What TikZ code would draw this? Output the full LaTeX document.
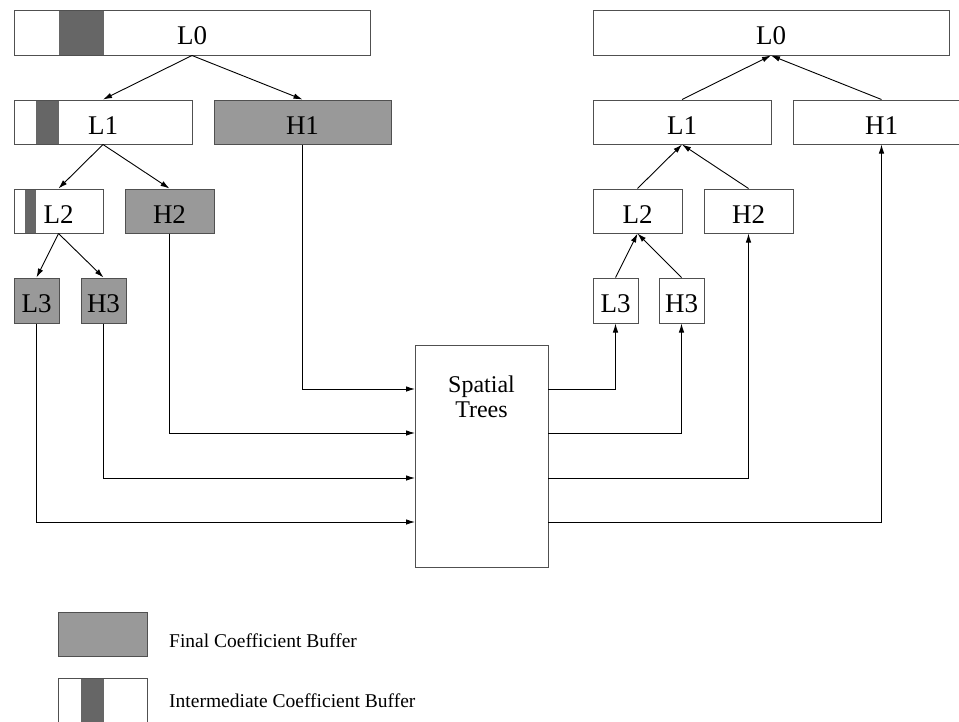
\documentclass[tikz,border=0pt]{standalone}
\usepackage{fontspec}
\setmainfont{Liberation Serif}
\usetikzlibrary{arrows.meta}
\definecolor{fincol}{HTML}{999999}
\definecolor{barcol}{HTML}{666666}
\definecolor{boxc}{HTML}{505050}
\tikzset{
  box/.style={draw=boxc, line width=1pt, inner sep=0pt, text height=28pt, text depth=4pt,
    font=\fontsize{27}{30}\selectfont},
  finbox/.style={box, fill=fincol},
  barfill/.style={fill=barcol},
  arr/.style={-{Latex[length=9pt,width=5.5pt]}, line width=0.9pt},
  conn/.style={-{Latex[length=9pt,width=5.5pt]}, line width=0.9pt},
  lbl/.style={inner sep=0pt, font=\fontsize{24}{26}\selectfont, anchor=base},
  legtxt/.style={inner sep=0pt, font=\fontsize{19.5}{22}\selectfont, anchor=base west}
}
\begin{document}
\begin{tikzpicture}[x=1pt,y=-1pt]
\useasboundingbox (0,0) rectangle (959,721);
% intermediate bars (drawn under the boxes)
\fill[barfill] (59,10) rectangle (104,55);
\fill[barfill] (36,100) rectangle (59,144);
\fill[barfill] (25,189) rectangle (36,233);
\fill[barfill] (81,678) rectangle (104,730);
% left tree
\node[box, minimum width=356pt, minimum height=45pt] (lL0) at (192,32.5) {L0};
\node[box, minimum width=178pt, minimum height=44pt] (lL1) at (103,122) {L1};
\node[finbox, minimum width=177pt, minimum height=44pt] (lH1) at (302.5,122) {H1};
\node[box, minimum width=89pt, minimum height=44pt] (lL2) at (58.5,211) {L2};
\node[finbox, minimum width=89pt, minimum height=44pt] (lH2) at (169.5,211) {H2};
\node[finbox, minimum width=45pt, minimum height=45pt] (lL3) at (36.5,300.5) {L3};
\node[finbox, minimum width=45pt, minimum height=45pt] (lH3) at (103.5,300.5) {H3};
% right tree
\node[box, minimum width=356pt, minimum height=45pt] (rL0) at (771,32.5) {L0};
\node[box, minimum width=178pt, minimum height=44pt] (rL1) at (682,122) {L1};
\node[box, minimum width=177pt, minimum height=44pt] (rH1) at (881.5,122) {H1};
\node[box, minimum width=89pt, minimum height=44pt] (rL2) at (637.5,211) {L2};
\node[box, minimum width=89pt, minimum height=44pt] (rH2) at (748.5,211) {H2};
\node[box, minimum width=45pt, minimum height=45pt] (rL3) at (615.5,300.5) {L3};
\node[box, minimum width=45pt, minimum height=45pt] (rH3) at (681.5,300.5) {H3};
% spatial trees
\node[draw=boxc, line width=1pt, minimum width=133pt, minimum height=222pt, inner sep=0pt] (st) at (481.5,456) {};
\node[lbl] (stA) at (481.5,392) {Spatial};
\node[lbl] (stB) at (481.5,417.5) {Trees};
% left arrows
\draw[arr] (lL0.south) -- (lL1.north);
\draw[arr] (lL0.south) -- (lH1.north);
\draw[arr] (lL1.south) -- (lL2.north);
\draw[arr] (lL1.south) -- (lH2.north);
\draw[arr] (lL2.south) -- (lL3.north);
\draw[arr] (lL2.south) -- (lH3.north);
% right arrows
\draw[arr] (rL1.north) -- (rL0.south);
\draw[arr] (rH1.north) -- (rL0.south);
\draw[arr] (rL2.north) -- (rL1.south);
\draw[arr] (rH2.north) -- (rL1.south);
\draw[arr] (rL3.north) -- (rL2.south);
\draw[arr] (rH3.north) -- (rL2.south);
% ports
\coordinate (i1) at (415,389);
\coordinate (i2) at (415,433);
\coordinate (i3) at (415,478);
\coordinate (i4) at (415,522);
\coordinate (o1) at (548,389);
\coordinate (o2) at (548,433);
\coordinate (o3) at (548,478);
\coordinate (o4) at (548,522);
\draw[conn] (lH1.south) |- (i1);
\draw[conn] (lH2.south) |- (i2);
\draw[conn] (lH3.south) |- (i3);
\draw[conn] (lL3.south) |- (i4);
\draw[conn] (o1) -| (rL3.south);
\draw[conn] (o2) -| (rH3.south);
\draw[conn] (o3) -| (rH2.south);
\draw[conn] (o4) -| (rH1.south);
% legend
\node[finbox, minimum width=89pt, minimum height=44pt] (lgF) at (102.5,634) {};
\node[legtxt] (lgFt) at (169,647) {Final Coefficient Buffer};
\node[draw=boxc, line width=1pt, minimum width=89pt, minimum height=52pt, inner sep=0pt] (lgI) at (102.5,704) {};
\node[legtxt] (lgIt) at (169,707) {Intermediate Coefficient Buffer};
\end{tikzpicture}
\end{document}
